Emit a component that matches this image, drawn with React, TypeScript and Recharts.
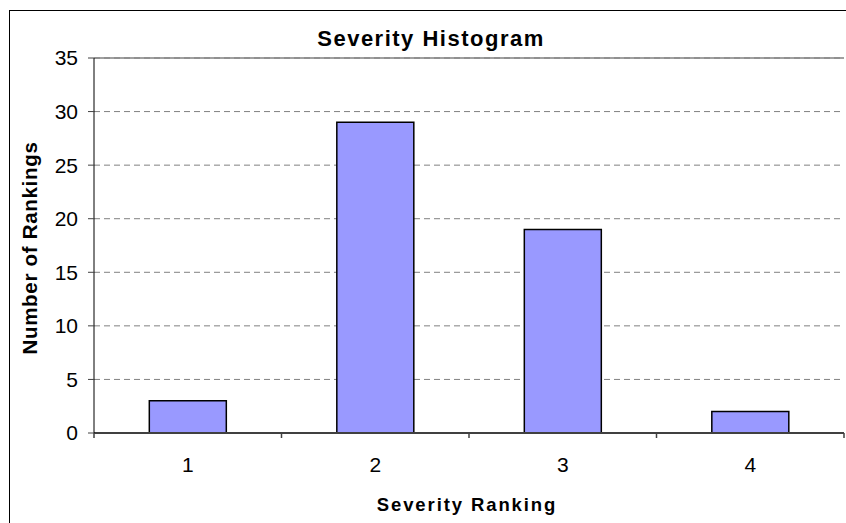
import React from 'react';
import { BarChart, Bar, XAxis, YAxis, CartesianGrid, ReferenceLine, Label } from 'recharts';

const categories = ['1', '2', '3', '4'];
const counts = [3, 29, 19, 2];
const yTicks = [0, 5, 10, 15, 20, 25, 30, 35];
const boundaryTicks = [0, 1, 2, 3, 4];

const data = categories.map((c, i) => ({ rank: c, count: counts[i], pos: i + 0.5 }));

const FONT = '"Liberation Sans", Arial, sans-serif';

const EmptyTick = () => <g />;

export default function App() {
  return (
    <div style={{ position: 'absolute', left: 0, top: 0, width: 846, height: 523, overflow: 'hidden', background: '#fff' }}>
      <div style={{ position: 'absolute', left: 9, top: 10, width: 900, height: 600, borderLeft: '1px solid #000', borderTop: '1px solid #000' }} />
      <div style={{ position: 'absolute', left: 0, width: 862, top: 26, textAlign: 'center', fontFamily: FONT, fontWeight: 'bold', fontSize: 22, letterSpacing: 1.5, color: '#000', lineHeight: '26px' }}>
        Severity Histogram
      </div>
      <div style={{ position: 'absolute', left: 0, top: 0 }}>
        <BarChart width={846} height={523} data={data} margin={{ top: 58, right: 2, bottom: 0, left: 0 }} barCategoryGap="29.5%">
          <CartesianGrid xAxisId="b" vertical={false} stroke="#808080" strokeDasharray="6 4" />
          <ReferenceLine xAxisId="b" y={35} stroke="#808080" strokeWidth={1.5} />
          <XAxis
            xAxisId="a"
            dataKey="pos"
            type="number"
            domain={[0, 4]}
            ticks={boundaryTicks}
            interval={0}
            allowDataOverflow
            height={1}
            tick={EmptyTick}
            tickSize={5}
            axisLine={{ stroke: '#404040', strokeWidth: 2 }}
            tickLine={{ stroke: '#404040', strokeWidth: 1.5 }}
          />
          <XAxis
            xAxisId="b"
            dataKey="rank"
            height={89}
            axisLine={false}
            tickLine={false}
            tickSize={0}
            tickMargin={23}
            tick={{ fill: '#000', fontSize: 21, fontFamily: FONT }}
          >
            <Label
              content={() => (
                <text x={467} y={511} textAnchor="middle" fontFamily={FONT} fontWeight="bold" fontSize={18.5} letterSpacing={1.9} fill="#000">
                  Severity Ranking
                </text>
              )}
            />
          </XAxis>
          <YAxis
            width={94}
            domain={[0, 35]}
            ticks={yTicks}
            interval={0}
            tickSize={6}
            tickMargin={10}
            axisLine={{ stroke: '#000' }}
            tickLine={{ stroke: '#404040' }}
            tick={{ fill: '#000', fontSize: 21, fontFamily: FONT }}
          >
            <Label
              content={() => {
                const cy = 248;
                const cx = 37;
                return (
                  <text x={cx} y={cy} transform={`rotate(-90 ${cx} ${cy})`} textAnchor="middle" fontFamily={FONT} fontWeight="bold" fontSize={20.5} letterSpacing={0.7} fill="#000">
                    Number of Rankings
                  </text>
                );
              }}
            />
          </YAxis>
          <YAxis
            yAxisId="r"
            orientation="right"
            width={0}
            domain={[0, 35]}
            tick={false}
            tickLine={false}
            axisLine={{ stroke: '#808080', strokeWidth: 2 }}
          />
          <ReferenceLine xAxisId="b" y={0} stroke="#404040" strokeWidth={2} />
          <Bar xAxisId="b" dataKey="count" fill="#9999FF" stroke="#000" strokeWidth={1.5} isAnimationActive={false} />
        </BarChart>
      </div>
    </div>
  );
}
